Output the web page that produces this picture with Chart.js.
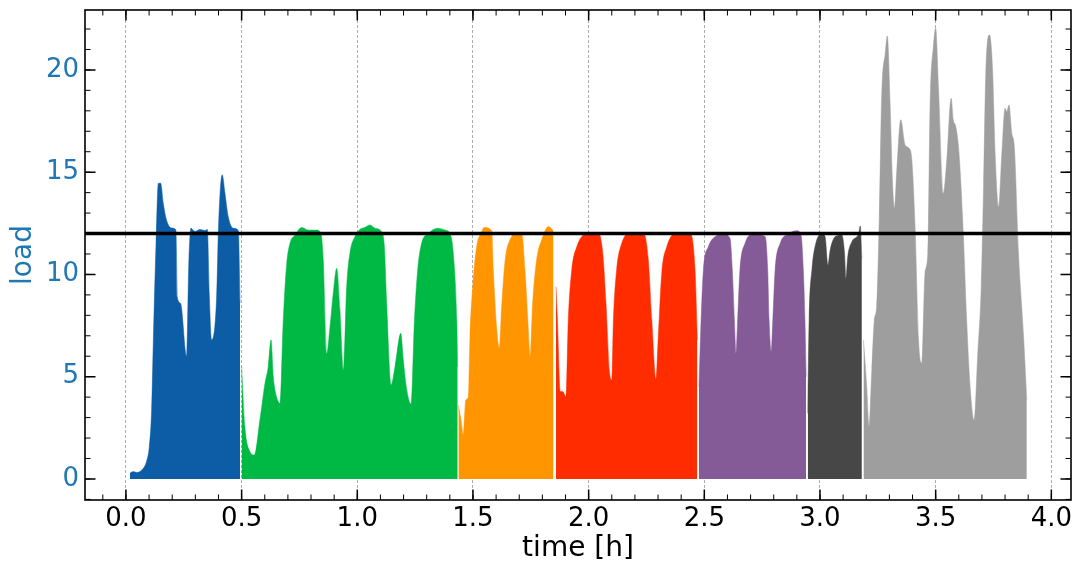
<!DOCTYPE html>
<html>
<head>
<meta charset="utf-8">
<script src="https://cdn.jsdelivr.net/npm/chart.js@4.4.1/dist/chart.umd.min.js"></script>
<style>
  html, body { margin: 0; padding: 0; background: #fff; }
  #wrap { width: 1075px; height: 566px; position: relative; }
</style>
</head>
<body>
<div id="wrap"><canvas id="grafica"></canvas></div>
<script>
// --- datos: tiempo [h] y carga por tramo ---
const tBlue = [0.017, 0.032, 0.046, 0.075, 0.089, 0.101, 0.111, 0.118, 0.130, 0.140, 0.150, 0.161, 0.175, 0.197, 0.216, 0.222, 0.236, 0.262, 0.272, 0.281, 0.298, 0.320, 0.342, 0.352, 0.360, 0.370, 0.392, 0.400, 0.416, 0.428, 0.442, 0.464, 0.486, 0.493];
const loadBlue = [0.28, 0.36, 0.31, 0.52, 0.85, 1.58, 3.37, 6.6, 11.5, 14.46, 14.46, 13.5, 12.67, 12.27, 12.17, 8.9, 8.59, 5.98, 10.7, 12.26, 12.1, 12.2, 12.15, 12.2, 9.08, 6.8, 8.9, 12.3, 14.87, 13.97, 12.83, 12.26, 12.14, 8.59];

const tGreen = [0.500, 0.514, 0.536, 0.555, 0.579, 0.601, 0.615, 0.627, 0.637, 0.651, 0.666, 0.680, 0.695, 0.709, 0.731, 0.760, 0.788, 0.824, 0.843, 0.853, 0.868, 0.882, 0.896, 0.911, 0.925, 0.940, 0.954, 0.968, 0.990, 1.012, 1.033, 1.055, 1.077, 1.105, 1.117, 1.127, 1.146, 1.163, 1.188, 1.199, 1.214, 1.232, 1.247, 1.261, 1.278, 1.307, 1.347, 1.379, 1.401, 1.415, 1.430, 1.434];
const loadGreen = [5.49, 2.56, 1.34, 1.17, 2.89, 4.68, 5.49, 6.8, 5.0, 4.02, 3.7, 7.78, 10.55, 11.52, 11.93, 12.3, 12.17, 12.17, 12.0, 10.7, 6.15, 7.45, 9.08, 10.3, 8.26, 5.33, 9.4, 11.04, 11.85, 12.21, 12.3, 12.42, 12.26, 12.09, 11.36, 8.59, 4.6, 5.49, 7.12, 5.82, 4.35, 3.67, 7.78, 10.22, 11.52, 12.0, 12.26, 12.17, 12.0, 11.04, 7.78, 5.49];

const tOrange = [1.437, 1.448, 1.458, 1.469, 1.480, 1.487, 1.499, 1.516, 1.538, 1.548, 1.581, 1.588, 1.603, 1.614, 1.624, 1.639, 1.660, 1.689, 1.711, 1.725, 1.737, 1.747, 1.758, 1.775, 1.797, 1.826, 1.848];
const loadOrange = [3.62, 2.89, 2.15, 3.86, 4.02, 6.96, 9.4, 11.36, 12.09, 12.3, 12.14, 10.22, 7.29, 6.39, 8.43, 10.7, 11.69, 11.98, 11.98, 10.22, 7.78, 5.98, 8.59, 10.7, 11.69, 12.34, 12.14];

const tRed = [1.859, 1.865, 1.877, 1.888, 1.902, 1.912, 1.927, 1.949, 1.977, 2.006, 2.042, 2.061, 2.075, 2.090, 2.100, 2.107, 2.121, 2.143, 2.179, 2.237, 2.258, 2.273, 2.291, 2.301, 2.316, 2.338, 2.374, 2.438, 2.460, 2.470];
const loadRed = [9.4, 7.78, 4.27, 4.27, 4.02, 7.78, 10.22, 11.36, 11.93, 12.04, 12.04, 11.04, 8.59, 5.25, 4.84, 7.78, 10.22, 11.52, 12.04, 12.04, 10.7, 7.78, 4.87, 6.96, 10.06, 11.36, 12.0, 12.0, 10.22, 6.8];

const tPurple = [2.477, 2.486, 2.496, 2.518, 2.547, 2.582, 2.611, 2.621, 2.630, 2.637, 2.644, 2.654, 2.676, 2.712, 2.763, 2.774, 2.780, 2.789, 2.796, 2.806, 2.828, 2.863, 2.900, 2.918, 2.928, 2.935, 2.940];
const loadPurple = [4.51, 7.78, 10.22, 11.36, 11.85, 11.98, 11.77, 10.22, 7.78, 6.15, 7.78, 10.22, 11.52, 11.98, 11.85, 10.22, 7.78, 6.23, 7.78, 10.22, 11.52, 11.98, 12.14, 11.93, 10.22, 7.78, 5.0];

const tDark = [2.947, 2.953, 2.965, 2.982, 3.008, 3.022, 3.034, 3.044, 3.066, 3.094, 3.106, 3.112, 3.120, 3.138, 3.167, 3.174, 3.181];
const loadDark = [3.21, 7.78, 10.22, 11.52, 11.98, 11.85, 10.46, 11.2, 11.85, 11.93, 11.04, 9.81, 10.87, 11.6, 12.0, 12.37, 10.8];

const tGray = [3.188, 3.202, 3.212, 3.224, 3.235, 3.245, 3.256, 3.267, 3.282, 3.291, 3.303, 3.313, 3.322, 3.332, 3.349, 3.368, 3.385, 3.397, 3.411, 3.426, 3.440, 3.454, 3.466, 3.476, 3.490, 3.500, 3.512, 3.533, 3.548, 3.567, 3.576, 3.587, 3.601, 3.620, 3.634, 3.649, 3.666, 3.682, 3.697, 3.707, 3.717, 3.733, 3.746, 3.757, 3.772, 3.786, 3.800, 3.807, 3.817, 3.829, 3.840, 3.858, 3.880, 3.894];
const loadGray = [6.8, 4.51, 2.56, 5.33, 7.78, 8.43, 12.67, 18.86, 20.82, 21.66, 18.37, 14.62, 13.24, 15.11, 17.56, 16.33, 16.17, 15.6, 12.34, 6.8, 5.66, 10.06, 11.04, 18.37, 21.14, 22.04, 19.18, 13.97, 15.6, 18.61, 17.56, 17.23, 15.93, 11.85, 7.78, 4.51, 2.89, 6.15, 9.4, 14.29, 20.0, 21.71, 20.0, 15.93, 13.32, 15.93, 18.12, 17.96, 18.29, 16.9, 16.25, 11.04, 6.96, 3.86];

const limiteCarga = 12;
const xTicks = [0.0, 0.5, 1.0, 1.5, 2.0, 2.5, 3.0, 3.5, 4.0];
const yTicks = [0, 5, 10, 15, 20];
const X_MIN = -0.177, X_MAX = 4.085, Y_MIN = -1.03, Y_MAX = 22.93;

const tramos = [
    [tBlue, loadBlue, '#0C5DA5'],
    [tGreen, loadGreen, '#00B945'],
    [tOrange, loadOrange, '#FF9500'],
    [tRed, loadRed, '#FF2C00'],
    [tPurple, loadPurple, '#845B97'],
    [tDark, loadDark, '#474747'],
    [tGray, loadGray, '#9e9e9e']
];

const AZUL = '#1f77b4';
const FUENTE = "'DejaVu Sans', sans-serif";

// --- marco y ticks hacia dentro en los cuatro lados ---
const marcoTicks = {
    id: 'marcoTicks',
    afterDraw(chart) {
        const { ctx, chartArea: a, scales: { x, y } } = chart;
        ctx.save();
        ctx.strokeStyle = '#000';
        const marcas = (vals, len, w, horiz) => {
            ctx.lineWidth = w; ctx.beginPath();
            vals.forEach(v => {
                if (horiz) {
                    const p = x.getPixelForValue(v);
                    if (p < a.left || p > a.right) return;
                    ctx.moveTo(p, a.bottom); ctx.lineTo(p, a.bottom - len);
                    ctx.moveTo(p, a.top); ctx.lineTo(p, a.top + len);
                } else {
                    const p = y.getPixelForValue(v);
                    if (p < a.top || p > a.bottom) return;
                    ctx.moveTo(a.left, p); ctx.lineTo(a.left + len, p);
                    ctx.moveTo(a.right, p); ctx.lineTo(a.right - len, p);
                }
            });
            ctx.stroke();
        };
        const xMenores = []; for (let i = -1; i <= 40; i++) xMenores.push(i / 10);
        const yMenores = []; for (let i = -1; i <= 22; i++) yMenores.push(i);
        marcas(xMenores, 5.5, 1, true);
        marcas(yMenores, 5.5, 1, false);
        marcas(xTicks, 10.5, 1.5, true);
        marcas(yTicks, 10.5, 1.5, false);
        ctx.lineWidth = 1.6;
        ctx.strokeRect(a.left, a.top, a.right - a.left, a.bottom - a.top);
        ctx.restore();
    }
};

const datasets = [{
    data: [{ x: X_MIN, y: limiteCarga }, { x: X_MAX, y: limiteCarga }],
    borderColor: '#000', borderWidth: 3.5, pointRadius: 0, fill: false
}];
tramos.forEach(([t, carga, color]) => {
    datasets.push({
        data: t.map((v, i) => ({ x: v, y: carga[i] })),
        backgroundColor: color, borderColor: color, borderWidth: 0.5,
        pointRadius: 0, fill: 'origin', cubicInterpolationMode: 'monotone'
    });
});

new Chart(document.getElementById('grafica'), {
    type: 'line',
    data: { datasets },
    plugins: [marcoTicks],
    options: {
        responsive: true, maintainAspectRatio: false, animation: false, devicePixelRatio: 1,
        layout: { padding: { top: 10, right: 4, left: 0, bottom: 0 } },
        plugins: { legend: { display: false }, tooltip: { enabled: false } },
        scales: {
            x: {
                type: 'linear', min: X_MIN, max: X_MAX,
                afterBuildTicks: s => { s.ticks = xTicks.map(v => ({ value: v })); },
                afterFit: s => { s.height = 66; s.paddingLeft = 0; s.paddingRight = 0; },
                grid: { display: true, drawTicks: false, color: '#999', lineWidth: 0.8 },
                border: { display: false, dash: [3, 2] },
                ticks: { padding: 4, color: '#000', font: { family: FUENTE, size: 26 }, maxRotation: 0, callback: v => v.toFixed(1) },
                title: { display: true, text: 'time [h]', color: '#000', font: { family: FUENTE, size: 28 }, padding: { top: 0, bottom: 0 } }
            },
            y: {
                type: 'linear', min: Y_MIN, max: Y_MAX,
                afterBuildTicks: s => { s.ticks = yTicks.map(v => ({ value: v })); },
                afterFit: s => { s.width = 85; s.paddingTop = 0; s.paddingBottom = 0; },
                grid: { display: false, drawTicks: false },
                border: { display: false },
                ticks: { padding: 6, color: AZUL, font: { family: FUENTE, size: 26 }, callback: v => String(v) },
                title: { display: true, text: 'load', color: AZUL, font: { family: FUENTE, size: 28 }, padding: { top: 7, bottom: 0 } }
            }
        }
    }
});
</script>
</body>
</html>
